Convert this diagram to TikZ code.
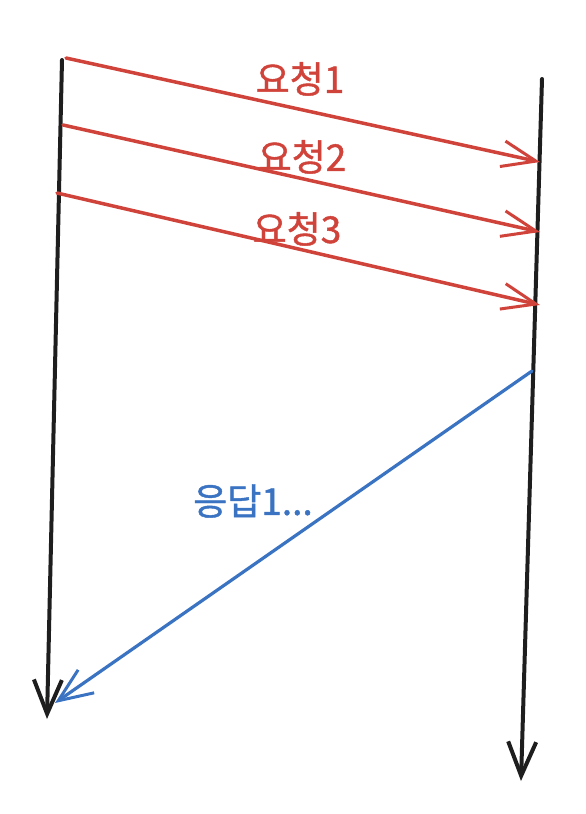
\documentclass[tikz,border=0pt]{standalone}
\usepackage{fontspec}
\newfontfamily\kr[FakeBold=1.2]{Noto Sans CJK KR}
\usetikzlibrary{arrows.meta}
\definecolor{lifeblack}{HTML}{1E1E1E}
\definecolor{reqred}{HTML}{D0433A}
\definecolor{resblue}{HTML}{3A73C2}
\tikzset{
  lifeline/.style={draw=lifeblack,line width=4pt,line cap=round,
    -{Straight Barb[length=34pt,width=28pt,line width=4pt]}},
  reqarrow/.style={draw=reqred,line width=3.5pt,line cap=round,
    -{Straight Barb[length=34pt,width=26pt,line width=3pt]}},
  resarrow/.style={draw=resblue,line width=3.2pt,line cap=round,
    -{Straight Barb[length=34pt,width=28pt,line width=3pt]}},
  reqlabel/.style={text=reqred,font=\kr\fontsize{37}{40}\selectfont,inner sep=0pt},
  reslabel/.style={text=resblue,font=\kr\fontsize{37}{40}\selectfont,inner sep=0pt}
}
\begin{document}
\begin{tikzpicture}[x=1pt,y=-1pt]
\useasboundingbox (0,0) rectangle (586,814);
% lifelines
\coordinate (Ltop) at (62,60);
\coordinate (Lbot) at (47,719);
\coordinate (Rtop) at (542,79);
\coordinate (Rbot) at (521,781);
\draw[lifeline] (Ltop) -- (Lbot);
\draw[lifeline] (Rtop) -- (Rbot);
% requests
\coordinate (s1) at (66,58);
\coordinate (e1) at (540,162);
\coordinate (s2) at (63,125);
\coordinate (e2) at (540,232);
\coordinate (s3) at (57,193);
\coordinate (e3) at (540,305);
\draw[reqarrow] (s1) -- (e1);
\draw[reqarrow] (s2) -- (e2);
\draw[reqarrow] (s3) -- (e3);
\node[reqlabel] (q1) at (300,79) {요청1};
\node[reqlabel] (q2) at (302,157) {요청2};
\node[reqlabel] (q3) at (297,229) {요청3};
% response
\coordinate (rs) at (532,371);
\coordinate (re) at (55,703);
\draw[resarrow] (rs) -- (re);
\node[reslabel] (a1) at (253,501) {응답1...};
\end{tikzpicture}
\end{document}
